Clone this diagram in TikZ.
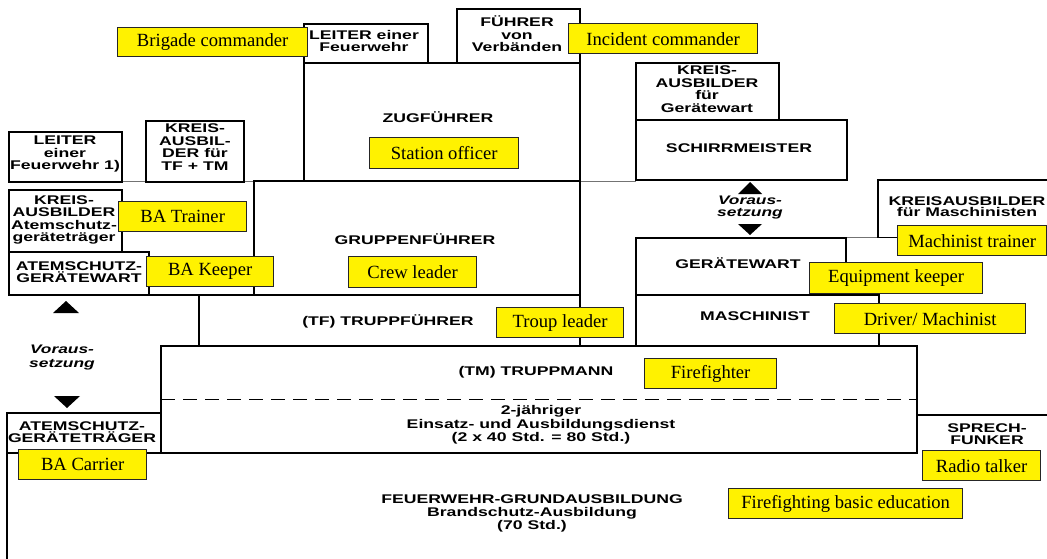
\documentclass[tikz,border=0pt]{standalone}
\usepackage{fontspec}
\setmainfont{Liberation Serif}
\newfontfamily\gsans[FakeStretch=1.4]{Liberation Sans}
\tikzset{
  frame/.style={draw=black, line width=1.8pt, inner sep=0pt, outer sep=0pt, anchor=north west},
  frameline/.style={draw=black, line width=1.8pt},
  thinline/.style={draw=black!55, line width=0.8pt},
  lbl/.style={font=\gsans\bfseries\fontsize{12.6}{12.5}\selectfont, align=center, inner sep=0pt},
  vor/.style={font=\gsans\bfseries\itshape\fontsize{12.4}{#1}\selectfont, align=center, inner sep=0pt},
  en/.style={draw=black!85, line width=1.3pt, fill=yellow, font=\fontsize{18.6}{20}\selectfont, inner sep=0pt, anchor=north west},
  tri/.style={fill=black}
}
\begin{document}
\begin{tikzpicture}[x=1pt,y=-1pt]
\path[use as bounding box, fill=white] (0,0) rectangle (1047,558);

% thin background lines
\coordinate (tlA) at (9,181.5);
\coordinate (tlB) at (636,181.5);
\draw[thinline] (tlA) -- (tlB);
\coordinate (tlC) at (846,237.5);
\coordinate (tlD) at (878,237.5);
\draw[thinline] (tlC) -- (tlD);

% frames
\node[frame, minimum width=113pt, minimum height=50pt] (leiterA) at (9,132) {};
\node[frame, minimum width=98pt, minimum height=61pt] (kreisTF) at (146,121) {};
\node[frame, minimum width=113pt, minimum height=62pt] (kreisAS) at (9,190) {};
\node[frame, minimum width=140pt, minimum height=43pt] (asgw) at (9,252) {};
\node[frame, minimum width=124pt, minimum height=39pt] (leiterB) at (304,24) {};
\node[frame, minimum width=123pt, minimum height=54pt] (fuehrer) at (457,9) {};
\node[frame, minimum width=276pt, minimum height=118pt] (zug) at (304,63) {};
\node[frame, minimum width=326pt, minimum height=114pt] (grup) at (254,181) {};
\node[frame, minimum width=381pt, minimum height=51pt] (tf) at (199,295) {};
\node[frame, minimum width=756pt, minimum height=107pt] (tm) at (161,346) {};
\node[frame, minimum width=154pt, minimum height=40pt] (asgt) at (7,413) {};
\node[frame, minimum width=143pt, minimum height=57pt] (kreisGW) at (636,63) {};
\node[frame, minimum width=211pt, minimum height=60pt] (schirr) at (636,120) {};
\node[frame, minimum width=210pt, minimum height=57pt] (gw) at (636,238) {};
\node[frame, minimum width=243pt, minimum height=51pt] (masch) at (636,295) {};

% joining and open edges
\draw[frameline] (asgw.south east) -- (tf.north west);
\draw[frameline] (asgt.south west) -- ++(0,110);
\coordinate (kmA) at (1048,180);
\coordinate (kmB) at (878,180);
\coordinate (kmC) at (878,237.5);
\coordinate (kmD) at (1048,237.5);
\draw[frameline] (kmA) -- (kmB) -- (kmC) -- (kmD);
\coordinate (spA) at (917,415);
\coordinate (spB) at (1048,415);
\draw[frameline] (spA) -- (spB);
\coordinate (dL) at (161,399.5);
\coordinate (dR) at (917,399.5);
\draw[black, line width=1.3pt, dash pattern=on 14pt off 8pt] (dL) -- (dR);

% German texts
\node[lbl] (tLeiterA) at (65,154) {LEITER\\einer\\Feuerwehr 1)};
\node[lbl] (tKreisTF) at (195,147) {KREIS-\\AUSBIL-\\DER für\\TF + TM};
\node[lbl] (tKreisAS) at (64,220) {KREIS-\\AUSBILDER\\Atemschutz-\\geräteträger};
\node[lbl, font=\gsans\bfseries\fontsize{12.6}{11.5}\selectfont] (tAsgw) at (79,272) {ATEMSCHUTZ-\\GERÄTEWART};
\node[lbl] (tLeiterB) at (364,41) {LEITER einer\\Feuerwehr};
\node[lbl] (tFuehrer) at (517,34) {FÜHRER\\von\\Verbänden};
\node[lbl] (tZug) at (438,117) {ZUGFÜHRER};
\node[lbl] (tGrup) at (415,239) {GRUPPENFÜHRER};
\node[lbl] (tTf) at (388,321) {(TF) TRUPPFÜHRER};
\node[lbl] (tTm) at (536,372) {(TM) TRUPPMANN};
\node[lbl, font=\gsans\bfseries\fontsize{12.6}{13.5}\selectfont] (tDienst) at (541,425) {2-jähriger\\Einsatz- und Ausbildungsdienst\\(2 x 40 Std. = 80 Std.)};
\node[lbl, font=\gsans\bfseries\fontsize{12.6}{11.5}\selectfont] (tAsgt) at (82,432) {ATEMSCHUTZ-\\GERÄTETRÄGER};
\node[lbl, font=\gsans\bfseries\fontsize{12.6}{13}\selectfont] (tGrund) at (532,513) {FEUERWEHR-GRUNDAUSBILDUNG\\Brandschutz-Ausbildung\\(70 Std.)};
\node[lbl] (tKreisGW) at (707,89) {KREIS-\\AUSBILDER\\für\\Gerätewart};
\node[lbl] (tSchirr) at (739,148) {SCHIRRMEISTER};
\node[lbl] (tGw) at (738,263) {GERÄTEWART};
\node[lbl] (tMasch) at (755,316) {MASCHINIST};
\node[lbl, font=\gsans\bfseries\fontsize{12.6}{11}\selectfont] (tKreisMa) at (967,207) {KREISAUSBILDER\\für Maschinisten};
\node[lbl] (tSprech) at (987,434) {SPRECH-\\FUNKER};

% Voraussetzung markers
\fill[tri] (53,313) -- (79,313) -- (66,301) -- cycle;
\fill[tri] (54,396) -- (80,396) -- (67,408) -- cycle;
\node[vor=14] (vorL) at (62,358) {Voraus-\\setzung};
\fill[tri] (738,194) -- (762,194) -- (750,182) -- cycle;
\fill[tri] (738,224) -- (762,224) -- (750,235) -- cycle;
\node[vor=11.5] (vorR) at (750,207.5) {Voraus-\\setzung};

% English labels
\node[en, minimum width=190pt, minimum height=29pt] (brig) at (117,27) {Brigade commander};
\node[en, minimum width=189pt, minimum height=30pt] (incid) at (568,23) {Incident commander};
\node[en, minimum width=149pt, minimum height=31pt] (station) at (369,137) {Station officer};
\node[en, minimum width=128pt, minimum height=30pt] (batrain) at (118,201) {BA Trainer};
\node[en, minimum width=127pt, minimum height=30pt] (bakeep) at (146,256) {BA Keeper};
\node[en, minimum width=128pt, minimum height=31pt] (crew) at (348,256) {Crew leader};
\node[en, minimum width=127pt, minimum height=30pt] (troup) at (496,307) {Troup leader};
\node[en, minimum width=149pt, minimum height=30pt] (mtrain) at (897,225) {Machinist trainer};
\node[en, minimum width=173pt, minimum height=31pt] (equip) at (809,262) {Equipment keeper};
\node[en, minimum width=191pt, minimum height=30pt] (driver) at (834,303) {Driver/ Machinist};
\node[en, minimum width=132pt, minimum height=30pt] (firef) at (644,358) {Firefighter};
\node[en, minimum width=128pt, minimum height=30pt] (bacarr) at (18,449) {BA Carrier};
\node[en, minimum width=118pt, minimum height=30pt] (radio) at (922,450) {Radio talker};
\node[en, minimum width=234pt, minimum height=30pt] (basic) at (728,488) {Firefighting basic education};
\end{tikzpicture}
\end{document}
